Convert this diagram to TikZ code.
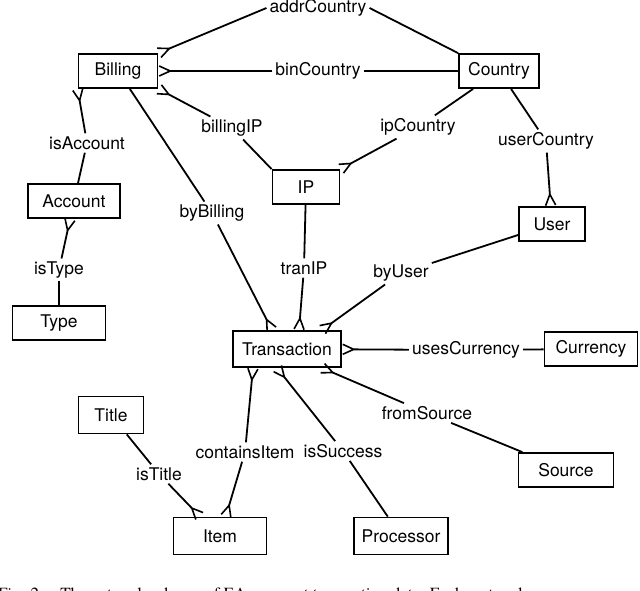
\documentclass[tikz,border=0pt]{standalone}
\usepackage{fontspec}
\setmainfont{TeX Gyre Heros}
\usetikzlibrary{arrows.meta}
\begin{document}
\begin{tikzpicture}[x=1pt,y=-1pt,
  ent/.style={draw,line width=1.8pt,minimum height=34pt,inner sep=0pt,font=\fontsize{17.5}{20}\selectfont},
  lab/.style={inner sep=3pt,font=\fontsize{17.5}{20}\selectfont},
  rel/.style={line width=1.8pt},
  crow/.style={-{Straight Barb[reversed,length=11pt,width=10pt,line width=1.6pt]}}]
\useasboundingbox (0,0) rectangle (640,591);
% entities
\node[ent,minimum width=79pt] (bil) at (118,71) {Billing};
\node[ent,minimum width=80pt] (cou) at (499,71) {Country};
\node[ent,minimum width=67pt] (ip) at (306,187) {IP};
\node[ent,minimum width=92pt] (acc) at (74,201) {Account};
\node[ent,minimum width=66pt] (usr) at (552,224) {User};
\node[ent,minimum width=93pt] (typ) at (59,323) {Type};
\node[ent,minimum width=108pt,minimum height=36pt] (tra) at (287,349) {Transaction};
\node[ent,minimum width=93pt] (cur) at (591,349) {Currency};
\node[ent,minimum width=65pt,minimum height=37pt] (tit) at (111,415) {Title};
\node[ent,minimum width=95pt] (src) at (566,470) {Source};
\node[ent,minimum width=93pt,minimum height=37pt] (itm) at (220,536) {Item};
\node[ent,minimum width=94pt,minimum height=37pt] (pro) at (401,536) {Processor};
% relation labels
\node[lab] (l1) at (318,8) {addrCountry};
\node[lab] (l2) at (318,71) {binCountry};
\node[lab] (l3) at (232,128) {billingIP};
\node[lab] (l4) at (418,127) {ipCountry};
\node[lab] (l5) at (546,141) {userCountry};
\node[lab] (l6) at (87,143) {isAccount};
\node[lab] (l7) at (212,213) {byBilling};
\node[lab] (l8) at (304,268) {tranIP};
\node[lab] (l9) at (59,270) {isType};
\node[lab] (l10) at (401,273) {byUser};
\node[lab] (l11) at (466,350) {usesCurrency};
\node[lab] (l12) at (427,413) {fromSource};
\node[lab] (l13) at (245,452) {containsItem};
\node[lab] (l14) at (343,451) {isSuccess};
\node[lab] (l15) at (159,474) {isTitle};
% connectors
\draw[rel] (cou.north west) -- (l1.east);
\draw[rel,crow] (l1.west) -- (bil.north east);
\draw[rel] (cou) -- (l2);
\draw[rel,crow] (l2) -- (bil);
\draw[rel] (ip.north west) -- (l3);
\draw[rel,crow] (l3) -- (bil.south east);
\draw[rel] (cou) -- (l4);
\draw[rel,crow] (l4) -- (ip.north east);
\draw[rel] (cou) -- (l5);
\draw[rel,crow] (l5) -- (usr);
\draw[rel] (acc) -- (l6);
\draw[rel,crow] (l6) -- (bil.south west);
\draw[rel] (bil) -- (l7);
\draw[rel,crow] (l7) -- ([xshift=-15pt]tra.north);
\draw[rel] (ip) -- (l8);
\draw[rel,crow] (l8) -- ([xshift=12pt]tra.north);
\draw[rel] (typ) -- (l9);
\draw[rel,crow] (l9) -- (acc);
\draw[rel] (usr) -- (l10);
\draw[rel,crow] (l10) -- ([xshift=-20pt]tra.north east);
\draw[rel] (cur) -- (l11);
\draw[rel,crow] (l11) -- (tra);
\draw[rel] (src) -- (l12);
\draw[rel,crow] (l12) -- ([xshift=-20pt]tra.south east);
\draw[rel,crow] (l13) -- ([xshift=-34pt]tra.south);
\draw[rel,crow] (l13) -- (itm);
\draw[rel] (pro) -- (l14);
\draw[rel,crow] (l14) -- ([xshift=-10pt]tra.south);
\draw[rel] (tit) -- (l15);
\draw[rel,crow] (l15) -- ([xshift=-20pt]itm.north);
% caption (clipped)
\node[anchor=west,inner sep=0pt,font=\fontspec{TeX Gyre Termes}\fontsize{17}{19}\selectfont] (cap) at (-2,596) {Fig. 2.\quad The network schema of EA payment transaction data. Each rectangle};
\end{tikzpicture}
\end{document}
